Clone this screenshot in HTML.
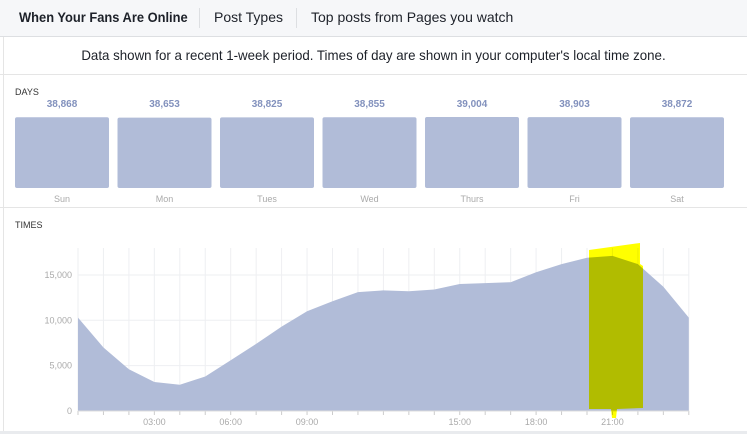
<!DOCTYPE html>
<html><head><meta charset="utf-8"><style>
body{margin:0;width:747px;height:434px;overflow:hidden;background:#fff;font-family:"Liberation Sans",sans-serif;position:relative}
.abs{position:absolute}
</style></head><body>
<div class="abs" style="left:0;top:0;width:747px;height:36px;background:#f6f7f9;border-bottom:1px solid #dddfe2"></div>
<div class="abs" style="left:19px;top:9px;font-size:14px;color:#1d2129;font-weight:bold;transform:scaleX(0.92);transform-origin:left">When Your Fans Are Online</div>
<div class="abs" style="left:199px;top:8px;width:1px;height:20px;background:#dddfe2"></div>
<div class="abs" style="left:214px;top:9px;font-size:14px;color:#1d2129">Post Types</div>
<div class="abs" style="left:296px;top:8px;width:1px;height:20px;background:#dddfe2"></div>
<div class="abs" style="left:311px;top:9px;font-size:14px;color:#1d2129">Top posts from Pages you watch</div>
<div class="abs" style="left:0;width:747px;top:47px;text-align:center;font-size:14px;color:#1d2129;transform:scaleX(0.95)">Data shown for a recent 1-week period. Times of day are shown in your computer's local time zone.</div>
<div class="abs" style="left:0;top:74px;width:747px;height:1px;background:#e5e5e5"></div>
<div class="abs" style="left:3px;top:37px;width:1px;height:395px;background:#e5e5e5"></div>
<div class="abs" style="left:15px;top:87px;font-size:9px;color:#333">DAYS</div>
<div class="abs" style="left:0;top:207px;width:747px;height:1px;background:#e5e5e5"></div>
<div class="abs" style="left:15px;top:220px;font-size:9px;color:#333">TIMES</div>
<div class="abs" style="left:0;top:431px;width:747px;height:3px;background:#e9ebee"></div>
<svg class="abs" style="left:0;top:0" width="747" height="434" id="svg"></svg>
<script>
const days=["Sun","Mon","Tues","Wed","Thurs","Fri","Sat"];
const dayValues=[38868,38653,38825,38855,39004,38903,38872];
const hours=[0,1,2,3,4,5,6,7,8,9,10,11,12,13,14,15,16,17,18,19,20,21,22,23,24];
const hourValues=[10300,7000,4600,3200,2900,3800,5600,7400,9300,11000,12100,13100,13300,13200,13400,14000,14100,14200,15300,16200,16900,17100,16200,13700,10300];
const yTicks=[0,5000,10000,15000];
const xTickLabels=["03:00","06:00","09:00","15:00","18:00","21:00"];
const xTickHours=[3,6,9,15,18,21];
const NS="http://www.w3.org/2000/svg";
const svg=document.getElementById('svg');
function mk(t,a){const e=document.createElementNS(NS,t);for(const k in a)e.setAttribute(k,a[k]);svg.appendChild(e);return e;}
// day bars
const barTop=117,barBottom=188,dMax=Math.max(...dayValues);
function dx(i){return 15+i*102.5;}
function dy(v){return barBottom-(v/dMax)*(barBottom-barTop);}
days.forEach((d,i)=>{
 const r=mk('rect',{x:dx(i),y:dy(dayValues[i]),width:94,height:barBottom-dy(dayValues[i]),rx:2,fill:'#b1bcd8'});
 
 
 const v=mk('text',{x:dx(i)+47,y:107,'text-anchor':'middle','font-size':10,'font-weight':'bold',fill:'#8291bd'});v.textContent=dayValues[i].toLocaleString('en-US');
 
 
 const l=mk('text',{x:dx(i)+47,y:202,'text-anchor':'middle','font-size':9,fill:'#aaa'});l.textContent=d;
 
 
});
// time chart
const x0=78,pxH=25.45,yBase=411,pxV=9.07/1000;
function xs(h){return x0+h*pxH;}
function ys(v){return yBase-v*pxV;}
for(let h=0;h<=24;h++){
 const g=mk('line',{x1:xs(h),x2:xs(h),y1:248,y2:yBase,stroke:'#eeeff2','stroke-width':1});
 
 
 mk('line',{x1:xs(h),x2:xs(h),y1:yBase,y2:yBase+4,stroke:'#ccc'});
}
yTicks.forEach(t=>{
 const g=mk('line',{x1:x0,x2:xs(24),y1:ys(t),y2:ys(t),stroke:'#eeeff2'});
 
 
 const l=mk('text',{x:72,y:ys(t)+3,'text-anchor':'end','font-size':9,fill:'#aaa'});l.textContent=t.toLocaleString('en-US');
 
 
});
let d='M'+xs(hours[0])+','+yBase;
hours.forEach((h,i)=>{d+=' L'+xs(h)+','+ys(hourValues[i]);});
d+=' L'+xs(hours[hours.length-1])+','+yBase+' Z';
const area=mk('path',{d:d,fill:'#b1bcd8'});


mk('line',{x1:x0,x2:xs(24),y1:yBase,y2:yBase,stroke:'#ddd'});
xTickLabels.forEach((t,i)=>{
 const l=mk('text',{x:xs(xTickHours[i]),y:425,'text-anchor':'middle','font-size':9,fill:'#aaa'});l.textContent=t;
 
 
});
// yellow highlight
const hl=mk('path',{d:'M589,250 L640,243 L640,264 L643,266 L643,408 L617,409 L616,418 L612,418 L611,409 L589,409 Z',fill:'#ffff00',style:'mix-blend-mode:multiply'});


</script>
</body></html>
